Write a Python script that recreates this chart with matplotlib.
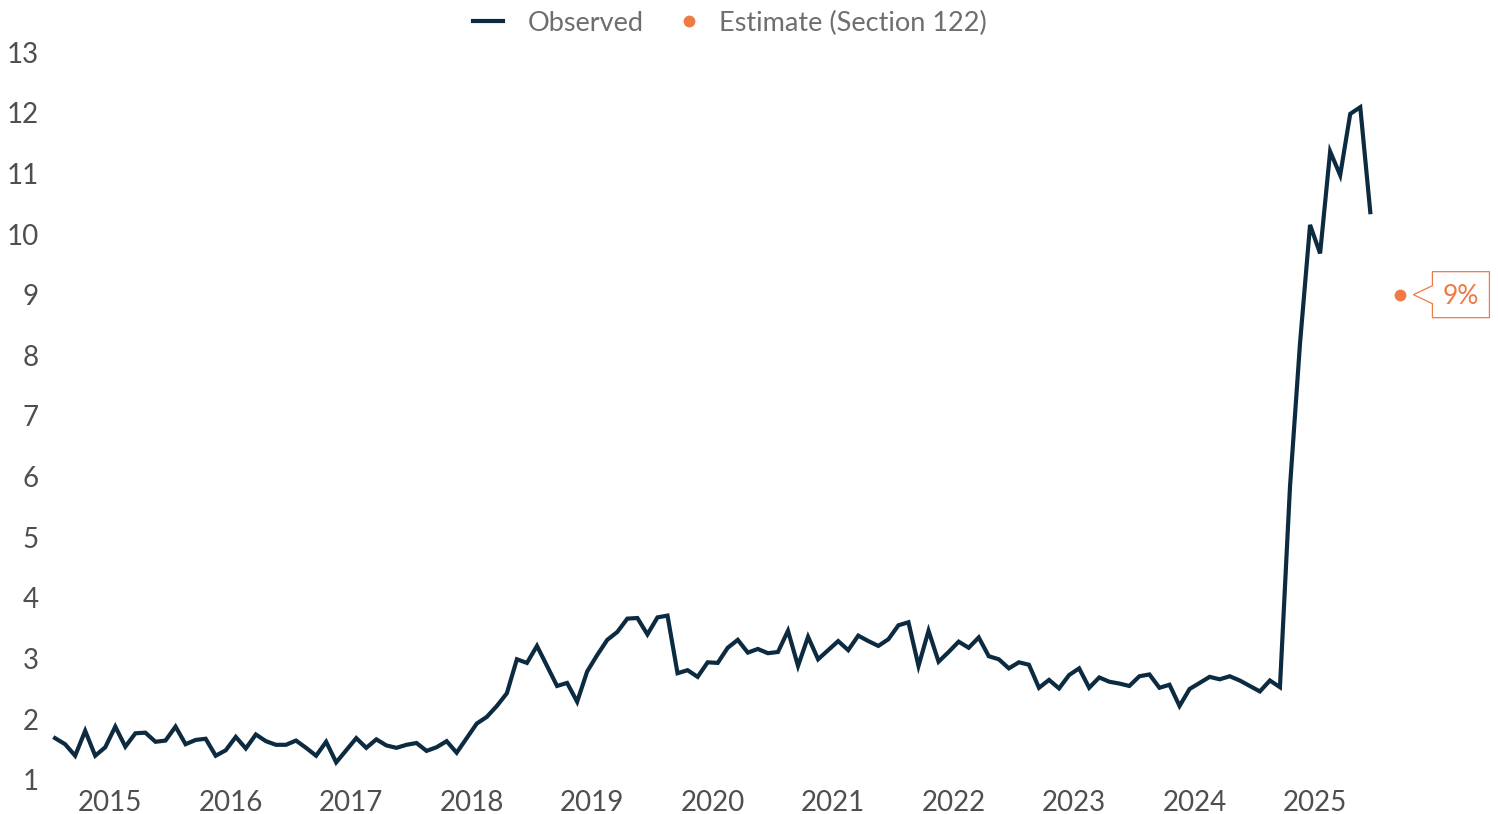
import matplotlib
matplotlib.use("Agg")
import matplotlib.pyplot as plt
from matplotlib.patches import Polygon
from matplotlib.legend_handler import HandlerLine2DCompound
import matplotlib.transforms as mtransforms
import numpy as np

# monthly observed rate, Jan 2015 - Dec 2025
observed = [
    1.69, 1.59, 1.40, 1.81, 1.40, 1.54, 1.88, 1.55, 1.77, 1.78, 1.63, 1.65,
    1.88, 1.59, 1.66, 1.68, 1.40, 1.49, 1.71, 1.52, 1.75, 1.64, 1.58, 1.58,
    1.65, 1.53, 1.40, 1.63, 1.29, 1.49, 1.69, 1.53, 1.67, 1.57, 1.53, 1.58,
    1.61, 1.48, 1.54, 1.64, 1.45, 1.69, 1.93, 2.04, 2.22, 2.43, 2.99, 2.93,
    3.21, 2.88, 2.55, 2.60, 2.29, 2.79, 3.06, 3.31, 3.44, 3.66, 3.67, 3.40,
    3.68, 3.71, 2.76, 2.81, 2.70, 2.94, 2.93, 3.18, 3.31, 3.10, 3.16, 3.09,
    3.11, 3.46, 2.88, 3.36, 2.99, 3.14, 3.29, 3.14, 3.38, 3.29, 3.21, 3.32,
    3.55, 3.60, 2.88, 3.46, 2.95, 3.11, 3.28, 3.18, 3.35, 3.04, 2.99, 2.84,
    2.94, 2.90, 2.52, 2.65, 2.51, 2.73, 2.84, 2.52, 2.69, 2.62, 2.59, 2.55,
    2.71, 2.74, 2.52, 2.57, 2.22, 2.50, 2.60, 2.70, 2.66, 2.71, 2.64, 2.55,
    2.46, 2.64, 2.53, 5.83, 8.20, 10.15, 9.68, 11.36, 10.97, 11.98, 12.09, 10.36,
]
months = list(range(len(observed)))

estimate_month = 134   # Mar 2026
estimate_value = 9.0
estimate_label = "9%"

years = [str(y) for y in range(2015, 2026)]
year_ticks = [5.5 + 12 * i for i in range(len(years))]
y_ticks = list(range(1, 14))

navy = "#0c2b40"
orange = "#ef7a45"
tick_grey = "#4f4f4f"
legend_grey = "#6e6e6e"

plt.rcParams["font.family"] = ["Lato", "DejaVu Sans"]


class RightDot(HandlerLine2DCompound):
    # put the single marker near the right end of the handle box
    def get_xdata(self, legend, xdescent, ydescent, width, height, fontsize):
        xdata, _ = super().get_xdata(legend, xdescent, ydescent, width, height, fontsize)
        return xdata, np.array([width * 0.83 - xdescent])


fig = plt.figure(figsize=(14.98, 8.14), dpi=100)
W, H = 1498, 814
ax = fig.add_axes([40 / W, 34 / H, 1450 / W, 728 / H])

ax.plot(months, observed, color=navy, lw=3.0, solid_joinstyle="miter", label="Observed")
est, = ax.plot([estimate_month], [estimate_value], "o", color=orange, ms=8.5, mec="none",
               label="Estimate (Section 122)", zorder=5)

ax.set_xlim(-1.5, -1.5 + 1450 / 10.04)
ax.set_ylim(1, 13)
ax.set_yticks(y_ticks)
ax.set_yticklabels([str(v) for v in y_ticks])
ax.set_xticks(year_ticks)
ax.set_xticklabels(years)
ax.tick_params(axis="both", length=0, labelsize=20, labelcolor=tick_grey)
ax.tick_params(axis="y", pad=1)
ax.tick_params(axis="x", pad=7.5)
for s in ax.spines.values():
    s.set_visible(False)

# callout box next to the estimate point (offsets in pixels)
px, py = ax.transData.transform((estimate_month, estimate_value))
callout = [(32, 23), (89, 23), (89, -23), (32, -23), (32, -9), (13, 0), (32, 9)]
tr = mtransforms.Affine2D().translate(px, py)
ax.add_patch(Polygon(callout, closed=True, transform=tr, facecolor="white",
                     edgecolor=orange, lw=0.9, clip_on=False, zorder=4))
ax.annotate(estimate_label, (estimate_month, estimate_value), xytext=(60.5 * 72 / 100, -1),
            textcoords="offset points", ha="center", va="center", fontsize=19,
            color=orange, zorder=6)

fig.legend(loc="center", bbox_to_anchor=(730 / W, 1 - 23 / H), ncol=2, frameon=False,
           fontsize=19.5, labelcolor=legend_grey, handlelength=1.11, handletextpad=0.93,
           columnspacing=0.74, handler_map={est: RightDot()})

fig.savefig("out.png", dpi=100)
